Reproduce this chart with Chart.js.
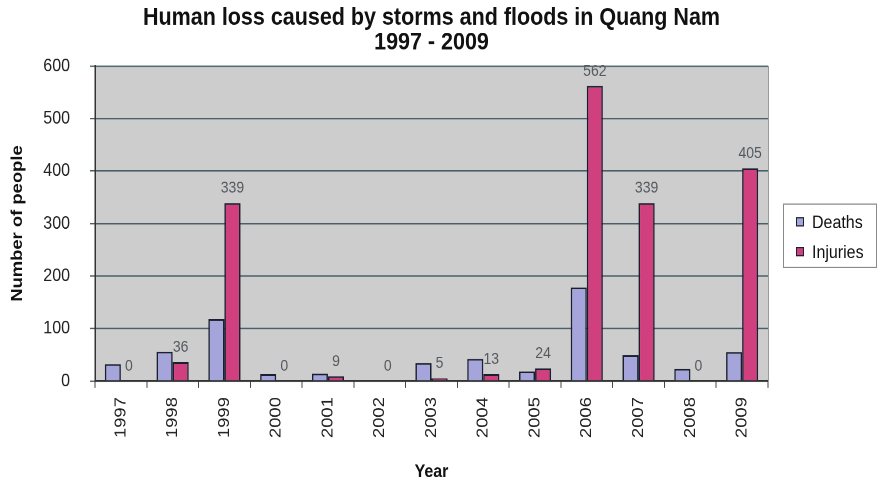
<!DOCTYPE html>
<html>
<head>
<meta charset="utf-8">
<title>Human loss caused by storms and floods in Quang Nam</title>
<script src="https://cdn.jsdelivr.net/npm/chart.js@4/dist/chart.umd.min.js"></script>
<style>
  html, body { margin: 0; padding: 0; background: #ffffff; }
  #frame { width: 878px; height: 484px; position: relative; }
  /* the chart is laid out 421px tall and stretched to fill the 484px frame */
  #wrap { position: absolute; left: 0; top: 0; width: 878px; height: 421px;
          transform: scaleY(1.1496); transform-origin: 0 0; }
</style>
</head>
<body>
<div id="frame"><div id="wrap"><canvas id="chart"></canvas></div></div>
<script>
// Yearly human loss, Quang Nam province
const years = ['1997', '1998', '1999', '2000', '2001', '2002', '2003',
               '2004', '2005', '2006', '2007', '2008', '2009'];
const deaths   = [32, 56, 118, 13, 14, 0, 34, 42, 18, 178, 49, 23, 55];
const injuries = [0, 36, 339, 0, 9, 0, 5, 13, 24, 562, 339, 0, 405];
const yTicks   = [0, 100, 200, 300, 400, 500, 600];

const seriesNames = ['Deaths', 'Injuries'];
const seriesColors = ['#a5a5dc', '#d0407f'];
const FONT = 'Arial, "Liberation Sans", sans-serif';

// Grey plot background plus the thin right-hand frame line
const plotFrame = {
  id: 'plotFrame',
  beforeDraw(chart) {
    const { ctx, chartArea: a } = chart;
    ctx.save();
    ctx.fillStyle = '#cdcdcd';
    ctx.fillRect(a.left, a.top, a.right - a.left, a.bottom - a.top);
    ctx.restore();
  },
  afterDraw(chart) {
    const { ctx, chartArea: a } = chart;
    ctx.save();
    ctx.strokeStyle = '#9a9a9a';
    ctx.lineWidth = 1;
    ctx.beginPath();
    ctx.moveTo(a.right + 0.5, a.top);
    ctx.lineTo(a.right + 0.5, a.bottom);
    ctx.stroke();
    ctx.restore();
  }
};

// Value labels above the injuries bars
const injuryLabels = {
  id: 'injuryLabels',
  afterDatasetsDraw(chart) {
    const { ctx } = chart;
    const meta = chart.getDatasetMeta(1);
    const values = chart.data.datasets[1].data;
    ctx.save();
    ctx.font = '14px ' + FONT;
    ctx.fillStyle = '#555a60';
    ctx.textAlign = 'center';
    ctx.textBaseline = 'alphabetic';
    meta.data.forEach((bar, i) => {
      ctx.fillText(String(values[i]), bar.x, bar.y - 9);
    });
    ctx.restore();
  }
};

// Boxed legend on the right side
const boxLegend = {
  id: 'boxLegend',
  afterDraw(chart) {
    const { ctx } = chart;
    const x = 783, y = 177.5, w = 94, h = 55;
    ctx.save();
    ctx.strokeStyle = '#8a8a8a';
    ctx.lineWidth = 1;
    ctx.strokeRect(x + 0.5, y, w - 1, h);
    ctx.font = '16px ' + FONT;
    ctx.textBaseline = 'middle';
    ctx.textAlign = 'left';
    chart.data.datasets.forEach((ds, i) => {
      const cy = y + 15.5 + i * 26;
      ctx.fillStyle = ds.backgroundColor;
      ctx.fillRect(796, cy - 3.5, 8, 7);
      ctx.strokeStyle = '#1b2030';
      ctx.strokeRect(796.5, cy - 3.5, 7, 7);
      ctx.fillStyle = '#111111';
      ctx.fillText(ds.label, 812, cy + 1);
    });
    ctx.restore();
  }
};

new Chart(document.getElementById('chart'), {
  type: 'bar',
  data: {
    labels: years,
    datasets: [
      { label: seriesNames[0], data: deaths, backgroundColor: seriesColors[0] },
      { label: seriesNames[1], data: injuries, backgroundColor: seriesColors[1] }
    ]
  },
  options: {
    responsive: true,
    maintainAspectRatio: false,
    animation: false,
    devicePixelRatio: 2,
    layout: { padding: { left: 0, right: 110, top: 0, bottom: 0 } },
    datasets: {
      bar: {
        borderColor: '#1b2030',
        borderWidth: 1.5,
        categoryPercentage: 0.62,
        barPercentage: 1.0
      }
    },
    plugins: {
      legend: { display: false },
      tooltip: { enabled: false },
      title: {
        display: true,
        fullSize: false,
        text: ['Human loss caused by storms and floods in Quang Nam', '1997 - 2009'],
        color: '#111111',
        font: { family: FONT, size: 21.5, weight: 'bold', lineHeight: 1.01 },
        padding: { top: 4.5, bottom: 9.5 }
      }
    },
    scales: {
      x: {
        grid: {
          display: true,
          drawOnChartArea: false,
          drawTicks: true,
          tickLength: 6,
          color: '#444444',
          offset: true
        },
        border: { display: true, color: '#333333', width: 1.5 },
        ticks: {
          minRotation: 90,
          maxRotation: 90,
          padding: 8,
          color: '#222222',
          font: { family: FONT, size: 16 }
        },
        title: {
          display: true,
          text: 'Year',
          color: '#111111',
          font: { family: FONT, size: 16, weight: 'bold' },
          padding: { top: 0, bottom: 1 }
        },
        afterFit(scale) { scale.height = 89.6; }
      },
      y: {
        min: 0,
        max: 600,
        afterBuildTicks(scale) { scale.ticks = yTicks.map(v => ({ value: v })); },
        grid: {
          color: '#4a6068',
          lineWidth: 1.2,
          drawTicks: true,
          tickLength: 5
        },
        border: { display: true, color: '#333333', width: 1.5 },
        ticks: {
          padding: 20,
          color: '#222222',
          font: { family: FONT, size: 16 }
        },
        title: {
          display: true,
          text: 'Number of people',
          color: '#111111',
          font: { family: FONT, size: 16, weight: 'bold' },
          padding: { top: 8, bottom: 0 }
        },
        afterFit(scale) { scale.width = 95; }
      }
    }
  },
  plugins: [plotFrame, injuryLabels, boxLegend]
});
</script>
</body>
</html>
